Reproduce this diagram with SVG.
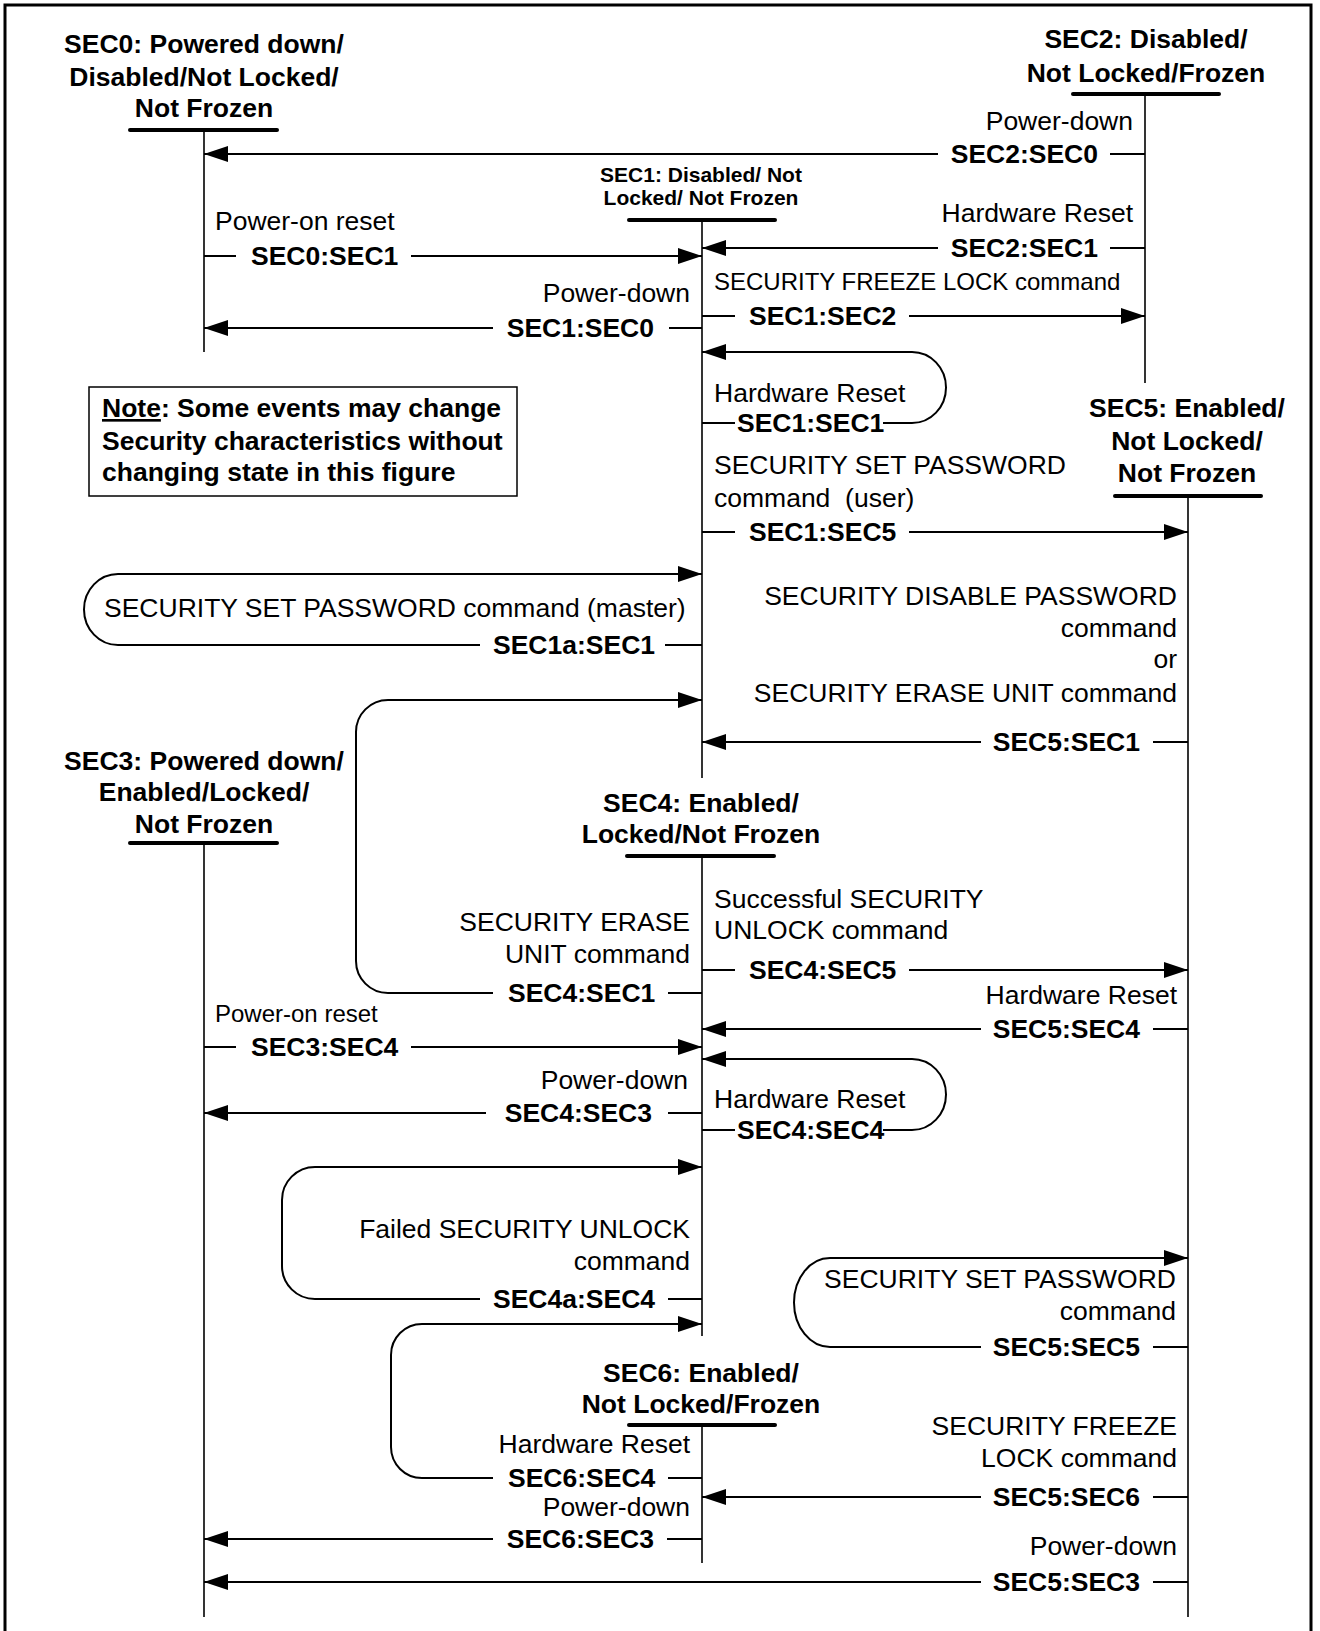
<svg xmlns="http://www.w3.org/2000/svg" width="1320" height="1631" viewBox="0 0 1320 1631">
<style>
text{font-family:"Liberation Sans",Arial,sans-serif;fill:#000}
.b{font-weight:bold;font-size:26.5px}
.r{font-size:26.5px}
.s{font-size:24px}
.t1{font-weight:bold;font-size:21px}
.e{text-anchor:end}
.m{text-anchor:middle}
.ln{stroke:#000;stroke-width:2;fill:none}
.life{stroke:#000;stroke-width:1.6;fill:none}
.bar{stroke:#000;stroke-width:4;stroke-linecap:round}
.ar{marker-end:url(#ah)}
</style>
<defs>
<marker id="ah" markerUnits="userSpaceOnUse" viewBox="0 0 24 16" refX="24" refY="8" markerWidth="24" markerHeight="16" orient="auto">
<path d="M0,0 L24,8 L0,16 z" fill="#000"/>
</marker>
</defs>
<rect x="5" y="5" width="1306" height="1640" fill="#fff" stroke="#000" stroke-width="3"/>

<g id="SEC0">
<text class="b m" x="204" y="53">SEC0: Powered down/</text>
<text class="b m" x="204" y="86">Disabled/Not Locked/</text>
<text class="b m" x="204" y="117">Not Frozen</text>
<line class="bar" x1="130" y1="130" x2="277" y2="130"/>
<line class="life" x1="204" y1="130" x2="204" y2="352"/>
</g>
<g id="SEC2">
<text class="b m" x="1146" y="48">SEC2: Disabled/</text>
<text class="b m" x="1146" y="82">Not Locked/Frozen</text>
<line class="bar" x1="1073" y1="94" x2="1219" y2="94"/>
<line class="life" x1="1145" y1="94" x2="1145" y2="383"/>
</g>
<g id="SEC1">
<text class="t1 m" x="701" y="182">SEC1: Disabled/ Not</text>
<text class="t1 m" x="701" y="205">Locked/ Not Frozen</text>
<line class="bar" x1="629" y1="220" x2="775" y2="220"/>
<line class="life" x1="702" y1="220" x2="702" y2="778"/>
</g>
<g id="SEC5">
<text class="b m" x="1187" y="417">SEC5: Enabled/</text>
<text class="b m" x="1187" y="450">Not Locked/</text>
<text class="b m" x="1187" y="482">Not Frozen</text>
<line class="bar" x1="1115" y1="496" x2="1261" y2="496"/>
<line class="life" x1="1188" y1="496" x2="1188" y2="1617"/>
</g>
<g id="SEC3">
<text class="b m" x="204" y="770">SEC3: Powered down/</text>
<text class="b m" x="204" y="801">Enabled/Locked/</text>
<text class="b m" x="204" y="833">Not Frozen</text>
<line class="bar" x1="130" y1="843" x2="277" y2="843"/>
<line class="life" x1="204" y1="843" x2="204" y2="1617"/>
</g>
<g id="SEC4">
<text class="b m" x="701" y="812">SEC4: Enabled/</text>
<text class="b m" x="701" y="843">Locked/Not Frozen</text>
<line class="bar" x1="627" y1="856" x2="774" y2="856"/>
<line class="life" x1="702" y1="856" x2="702" y2="1336"/>
</g>
<g id="SEC6">
<text class="b m" x="701" y="1382">SEC6: Enabled/</text>
<text class="b m" x="701" y="1413">Not Locked/Frozen</text>
<line class="bar" x1="629" y1="1425" x2="775" y2="1425"/>
<line class="life" x1="702" y1="1425" x2="702" y2="1563"/>
</g>
<g id="note">
<rect x="89" y="387" width="428" height="109" fill="none" stroke="#000" stroke-width="1.5"/>
<text class="b" x="102" y="417"><tspan text-decoration="underline">Note</tspan>: Some events may change</text>
<text class="b" x="102" y="450">Security characteristics without</text>
<text class="b" x="102" y="481">changing state in this figure</text>
</g>

<g id="connectors">
<!-- SEC2:SEC0 -->
<text class="r e" x="1133" y="130">Power-down</text>
<line class="ln" x1="1145" y1="154" x2="1110" y2="154"/>
<text class="b e" x="1098" y="163">SEC2:SEC0</text>
<line class="ln ar" x1="938" y1="154" x2="204" y2="154"/>
<!-- SEC0:SEC1 -->
<text class="r" x="215" y="230">Power-on reset</text>
<line class="ln" x1="204" y1="256" x2="236" y2="256"/>
<text class="b" x="251" y="265">SEC0:SEC1</text>
<line class="ln ar" x1="411" y1="256" x2="702" y2="256"/>
<!-- SEC2:SEC1 -->
<text class="r e" x="1133" y="222">Hardware Reset</text>
<line class="ln" x1="1145" y1="248" x2="1110" y2="248"/>
<text class="b e" x="1098" y="257">SEC2:SEC1</text>
<line class="ln ar" x1="938" y1="248" x2="702" y2="248"/>
<!-- SEC1:SEC2 -->
<text class="s" x="714" y="290">SECURITY FREEZE LOCK command</text>
<line class="ln" x1="702" y1="316" x2="735" y2="316"/>
<text class="b" x="749" y="325">SEC1:SEC2</text>
<line class="ln ar" x1="909" y1="316" x2="1145" y2="316"/>
<!-- SEC1:SEC0 -->
<text class="r e" x="690" y="302">Power-down</text>
<line class="ln" x1="702" y1="328" x2="669" y2="328"/>
<text class="b e" x="654" y="337">SEC1:SEC0</text>
<line class="ln ar" x1="493" y1="328" x2="204" y2="328"/>
<!-- SEC1:SEC1 -->
<text class="r" x="714" y="402">Hardware Reset</text>
<line class="ln" x1="702" y1="423" x2="735" y2="423"/>
<text class="b" x="737" y="432">SEC1:SEC1</text>
<path class="ln ar" d="M883 423 L912 423 A34 35.5 0 0 0 912 352 L702 352"/>
<!-- SEC1:SEC5 -->
<text class="r" x="714" y="474">SECURITY SET PASSWORD</text>
<text class="r" x="714" y="507" style="white-space:pre">command  (user)</text>
<line class="ln" x1="702" y1="532" x2="735" y2="532"/>
<text class="b" x="749" y="541">SEC1:SEC5</text>
<line class="ln ar" x1="909" y1="532" x2="1188" y2="532"/>
<!-- SEC1a:SEC1 -->
<text class="r" x="104" y="617">SECURITY SET PASSWORD command (master)</text>
<path class="ln ar" d="M480 645 L118 645 A34 35.5 0 0 1 118 574 L702 574"/>
<text class="b" x="493" y="654">SEC1a:SEC1</text>
<line class="ln" x1="665" y1="645" x2="702" y2="645"/>
<!-- SEC5:SEC1 -->
<text class="r e" x="1177" y="605">SECURITY DISABLE PASSWORD</text>
<text class="r e" x="1177" y="637">command</text>
<text class="r e" x="1177" y="668">or</text>
<text class="r e" x="1177" y="702">SECURITY ERASE UNIT command</text>
<line class="ln" x1="1188" y1="742" x2="1153" y2="742"/>
<text class="b e" x="1140" y="751">SEC5:SEC1</text>
<line class="ln ar" x1="981" y1="742" x2="702" y2="742"/>
<!-- SEC4:SEC1 -->
<text class="r e" x="690" y="931">SECURITY ERASE</text>
<text class="r e" x="690" y="963">UNIT command</text>
<path class="ln ar" d="M493 993 L388 993 A32 32 0 0 1 356 961 L356 732 A32 32 0 0 1 388 700 L702 700"/>
<text class="b" x="508" y="1002">SEC4:SEC1</text>
<line class="ln" x1="668" y1="993" x2="702" y2="993"/>
<!-- SEC4:SEC5 -->
<text class="r" x="714" y="908">Successful SECURITY</text>
<text class="r" x="714" y="939">UNLOCK command</text>
<line class="ln" x1="702" y1="970" x2="735" y2="970"/>
<text class="b" x="749" y="979">SEC4:SEC5</text>
<line class="ln ar" x1="909" y1="970" x2="1188" y2="970"/>
<!-- SEC5:SEC4 -->
<text class="r e" x="1177" y="1004">Hardware Reset</text>
<line class="ln" x1="1188" y1="1029" x2="1153" y2="1029"/>
<text class="b e" x="1140" y="1038">SEC5:SEC4</text>
<line class="ln ar" x1="981" y1="1029" x2="702" y2="1029"/>
<!-- SEC3:SEC4 -->
<text class="s" x="215" y="1022">Power-on reset</text>
<line class="ln" x1="204" y1="1047" x2="236" y2="1047"/>
<text class="b" x="251" y="1056">SEC3:SEC4</text>
<line class="ln ar" x1="411" y1="1047" x2="702" y2="1047"/>
<!-- SEC4:SEC4 -->
<text class="r" x="714" y="1108">Hardware Reset</text>
<line class="ln" x1="702" y1="1130" x2="735" y2="1130"/>
<text class="b" x="737" y="1139">SEC4:SEC4</text>
<path class="ln ar" d="M883 1130 L912 1130 A34 35.5 0 0 0 912 1059 L702 1059"/>
<!-- SEC4:SEC3 -->
<text class="r e" x="688" y="1089">Power-down</text>
<line class="ln" x1="702" y1="1113" x2="668" y2="1113"/>
<text class="b e" x="652" y="1122">SEC4:SEC3</text>
<line class="ln ar" x1="486" y1="1113" x2="204" y2="1113"/>
<!-- SEC4a:SEC4 -->
<text class="r e" x="690" y="1238">Failed SECURITY UNLOCK</text>
<text class="r e" x="690" y="1270">command</text>
<path class="ln ar" d="M480 1299 L315 1299 A33 33 0 0 1 282 1266 L282 1200 A33 33 0 0 1 315 1167 L702 1167"/>
<text class="b" x="493" y="1308">SEC4a:SEC4</text>
<line class="ln" x1="668" y1="1299" x2="702" y2="1299"/>
<!-- SEC6:SEC4 -->
<text class="r e" x="690" y="1453">Hardware Reset</text>
<path class="ln ar" d="M493 1478 L422 1478 A31 31 0 0 1 391 1447 L391 1355 A31 31 0 0 1 422 1324 L702 1324"/>
<text class="b" x="508" y="1487">SEC6:SEC4</text>
<line class="ln" x1="668" y1="1478" x2="702" y2="1478"/>
<!-- SEC5:SEC5 -->
<text class="r e" x="1176" y="1288">SECURITY SET PASSWORD</text>
<text class="r e" x="1176" y="1320">command</text>
<path class="ln ar" d="M981 1347 L830 1347 A36 44.5 0 0 1 830 1258 L1188 1258"/>
<text class="b e" x="1140" y="1356">SEC5:SEC5</text>
<line class="ln" x1="1153" y1="1347" x2="1188" y2="1347"/>
<!-- SEC5:SEC6 -->
<text class="r e" x="1177" y="1435">SECURITY FREEZE</text>
<text class="r e" x="1177" y="1467">LOCK command</text>
<line class="ln" x1="1188" y1="1497" x2="1153" y2="1497"/>
<text class="b e" x="1140" y="1506">SEC5:SEC6</text>
<line class="ln ar" x1="981" y1="1497" x2="702" y2="1497"/>
<!-- SEC6:SEC3 -->
<text class="r e" x="690" y="1516">Power-down</text>
<line class="ln" x1="702" y1="1539" x2="667" y2="1539"/>
<text class="b e" x="654" y="1548">SEC6:SEC3</text>
<line class="ln ar" x1="493" y1="1539" x2="204" y2="1539"/>
<!-- SEC5:SEC3 -->
<text class="r e" x="1177" y="1555">Power-down</text>
<line class="ln" x1="1188" y1="1582" x2="1153" y2="1582"/>
<text class="b e" x="1140" y="1591">SEC5:SEC3</text>
<line class="ln ar" x1="981" y1="1582" x2="204" y2="1582"/>
</g>
</svg>
